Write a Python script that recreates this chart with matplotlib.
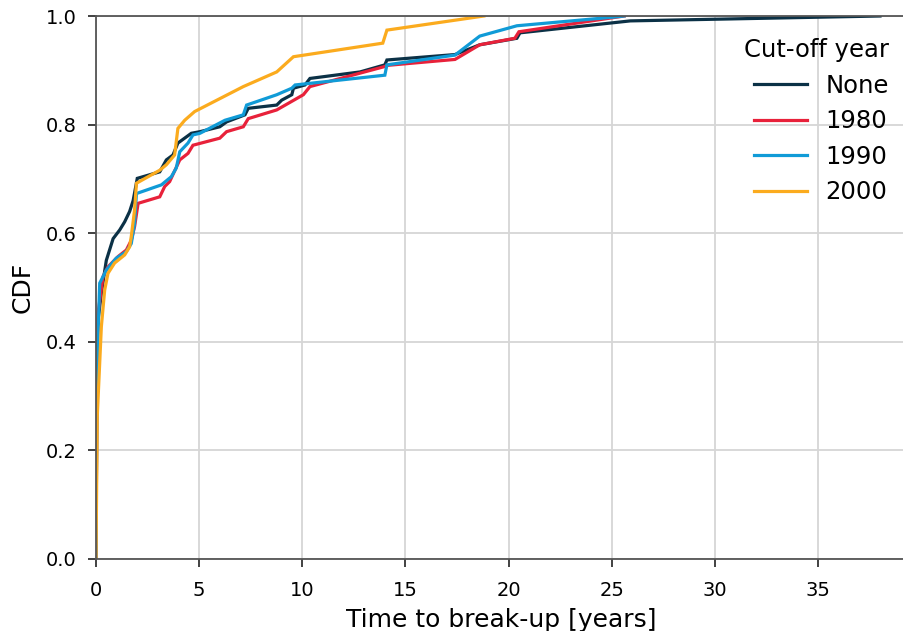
import matplotlib
matplotlib.use("Agg")
import matplotlib.pyplot as plt

# CDF of time to break-up (years, cumulative fraction)
t_none = [0, 0.05, 0.10, 0.26, 0.50, 0.83, 1.15, 1.39, 1.63, 1.80, 2.0, 3.09, 3.41,
          3.73, 3.97, 4.62, 5.04, 6.0, 6.33, 7.22, 7.38, 8.76, 9.0, 9.49, 9.57,
          10.13, 10.37, 12.8, 14.0, 14.1, 17.4, 18.6, 20.4, 20.55, 25.9, 38.0]
c_none = [0, 0.40, 0.44, 0.49, 0.55, 0.59, 0.606, 0.621, 0.64, 0.66, 0.701, 0.713, 0.735,
          0.744, 0.766, 0.784, 0.787, 0.796, 0.805, 0.818, 0.830, 0.836, 0.845, 0.855, 0.867,
          0.873, 0.885, 0.897, 0.910, 0.919, 0.929, 0.947, 0.959, 0.969, 0.991, 1.0]

t_1980 = [0, 0.05, 0.10, 0.34, 0.58, 1.07, 1.47, 1.71, 1.87, 2.04, 3.09, 3.33, 3.57,
          4.06, 4.46, 4.70, 6.0, 6.33, 7.14, 7.38, 8.76, 10.05, 10.37, 14.0, 14.1,
          17.4, 18.6, 20.3, 20.5, 25.6]
c_1980 = [0, 0.36, 0.453, 0.52, 0.538, 0.557, 0.569, 0.587, 0.612, 0.655, 0.667, 0.686, 0.695,
          0.735, 0.747, 0.762, 0.775, 0.787, 0.796, 0.811, 0.827, 0.855, 0.87, 0.907, 0.909,
          0.920, 0.947, 0.959, 0.971, 1.0]

t_1990 = [0, 0.05, 0.18, 0.50, 0.98, 1.47, 1.71, 1.87, 1.96, 3.17, 3.65, 3.89, 4.06,
          4.46, 4.70, 5.04, 6.25, 7.14, 7.30, 8.76, 9.49, 9.65, 14.0, 14.1, 17.4,
          18.6, 20.4, 25.1, 25.6]
c_1990 = [0, 0.36, 0.508, 0.532, 0.554, 0.566, 0.581, 0.618, 0.673, 0.689, 0.704, 0.72, 0.75,
          0.766, 0.781, 0.784, 0.808, 0.818, 0.836, 0.855, 0.867, 0.873, 0.891, 0.91, 0.928,
          0.963, 0.982, 0.998, 1.0]

t_2000 = [0, 0.06, 0.26, 0.42, 0.58, 0.90, 1.39, 1.63, 1.71, 1.87, 1.96, 3.09, 3.41,
          3.81, 3.97, 4.30, 4.78, 7.14, 8.76, 9.57, 13.9, 14.1, 18.8]
c_2000 = [0, 0.262, 0.428, 0.495, 0.526, 0.545, 0.56, 0.575, 0.594, 0.643, 0.692, 0.716, 0.726,
          0.744, 0.793, 0.808, 0.824, 0.87, 0.897, 0.925, 0.95, 0.974, 1.0]

labels = ["None", "1980", "1990", "2000"]
colors = ["#0b3146", "#e8213a", "#109bd7", "#fbab1e"]

fig = plt.figure(figsize=(9.04, 6.31), dpi=100)
ax = fig.add_axes([96 / 904, 72 / 631, 810 / 904, 543 / 631])

series = [(t_none, c_none), (t_1980, c_1980), (t_1990, c_1990), (t_2000, c_2000)]
for (t, c), lab, col in zip(series, labels, colors):
    ax.plot(t, c, color=col, lw=2.3, label=lab, solid_joinstyle="miter")

ax.set_xlim(0, 39.26)
ax.set_ylim(0, 1.0)
ax.set_xticks(range(0, 40, 5))
ax.set_yticks([0, 0.2, 0.4, 0.6, 0.8, 1.0])
ax.grid(True, color="#d6d6d6", lw=1.3)
ax.set_axisbelow(True)

ax.spines["right"].set_visible(False)
for side in ["left", "bottom", "top"]:
    ax.spines[side].set_color("#555555")
    ax.spines[side].set_linewidth(1.3)
ax.tick_params(axis="both", direction="out", length=6, width=1.3,
               color="#333333", labelsize=14)
ax.tick_params(axis="x", pad=9.5)
ax.tick_params(axis="y", pad=8)

ax.set_xlabel("Time to break-up [years]", fontsize=18, labelpad=6)
ax.set_ylabel("CDF", fontsize=18, labelpad=8)

leg = ax.legend(title="Cut-off year", frameon=False, loc="upper right",
                bbox_to_anchor=(1.0, 0.99), fontsize=17.5, title_fontsize=17.5,
                handlelength=2.18, handletextpad=0.78, labelspacing=0.47,
                borderaxespad=0.3)
leg._legend_box.align = "right"

fig.savefig("out.png", dpi=100)
